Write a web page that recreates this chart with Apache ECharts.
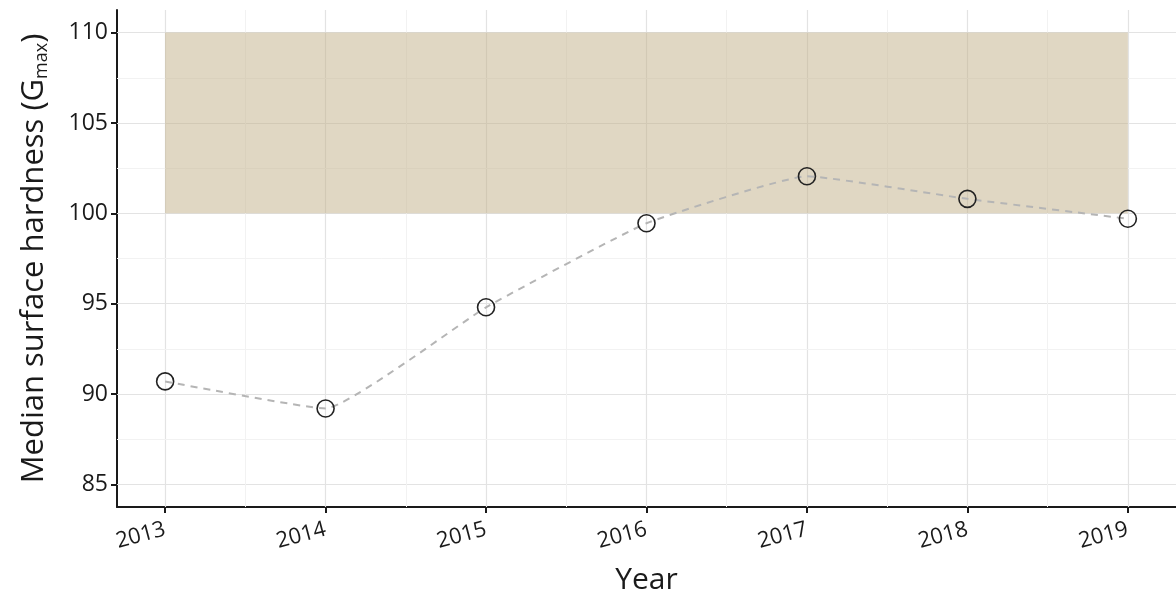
<!DOCTYPE html>
<html><head><meta charset="utf-8">
<script src="https://cdn.jsdelivr.net/npm/echarts@6/dist/echarts.min.js"></script>
<style>html,body{margin:0;padding:0;background:#fff}#c{width:1176px;height:606px}</style>
</head><body><div id="c"></div>
<script>
const years = [2013, 2014, 2015, 2016, 2017, 2018, 2019];
const hardness = [90.7, 89.2, 94.8, 99.45, 102.05, 100.8, 99.7];
const yTicks = [85, 90, 95, 100, 105, 110];
const yMinor = [87.5, 92.5, 97.5, 102.5, 107.5];
const xMinor = [2013.5, 2014.5, 2015.5, 2016.5, 2017.5, 2018.5];
const band = { x0: 2013, x1: 2019, y0: 100, y1: 110 };

const FONT = '"Open Sans", "Noto Sans", sans-serif';
const chart = echarts.init(document.getElementById('c'));

const gridLines = [];
years.forEach(v => gridLines.push({ xAxis: v, lineStyle: { color: '#e3e3e3', width: 1.2, type: 'solid' } }));
yTicks.forEach(v => gridLines.push({ yAxis: v, lineStyle: { color: '#e3e3e3', width: 1.2, type: 'solid' } }));
xMinor.forEach(v => gridLines.push({ xAxis: v, lineStyle: { color: '#f2f2f2', width: 1, type: 'solid' } }));
yMinor.forEach(v => gridLines.push({ yAxis: v, lineStyle: { color: '#f2f2f2', width: 1, type: 'solid' } }));

chart.setOption({
  animation: false,
  backgroundColor: '#fff',
  grid: { left: 117, right: 0, top: 10, bottom: 99, containLabel: false },
  xAxis: {
    type: 'value', min: 2012.7, max: 2019.3,
    name: 'Year', nameLocation: 'middle', nameGap: 58,
    nameTextStyle: { fontFamily: FONT, fontSize: 30, color: '#1a1a1a' },
    axisLine: { show: true, lineStyle: { color: '#1a1a1a', width: 2 } },
    axisTick: { show: true, customValues: years, length: 6, lineStyle: { color: '#1a1a1a', width: 2 } },
    axisLabel: { customValues: years, rotate: 15, fontFamily: FONT, fontSize: 22, color: '#1a1a1a', margin: 22, formatter: v => String(v) },
    splitLine: { show: false }
  },
  yAxis: {
    type: 'value', min: 83.75, max: 111.25,
    name: '{a|Median surface hardness (G}{b|max}{a|)}', nameLocation: 'middle', nameGap: 66,
    nameTextStyle: {
      fontFamily: FONT, color: '#1a1a1a',
      rich: {
        a: { fontFamily: FONT, fontSize: 31, color: '#1a1a1a' },
        b: { fontFamily: FONT, fontSize: 18, color: '#1a1a1a', padding: [16, 0, 0, 0] }
      }
    },
    axisLine: { show: true, lineStyle: { color: '#1a1a1a', width: 2 } },
    axisTick: { show: true, customValues: yTicks, length: 6, lineStyle: { color: '#1a1a1a', width: 2 } },
    axisLabel: { customValues: yTicks, fontFamily: FONT, fontSize: 23, color: '#1a1a1a', margin: 9 },
    splitLine: { show: false }
  },
  series: [
    {
      type: 'line', data: [], silent: true, z: 1,
      markLine: { silent: true, z: 1, symbol: ['none', 'none'], label: { show: false }, data: gridLines, animation: false }
    },
    {
      type: 'line', z: 2, silent: true,
      data: [],
      markArea: {
        silent: true, z: 2,
        itemStyle: { color: 'rgba(194,176,136,0.5)' },
        data: [[{ xAxis: band.x0, yAxis: band.y0 }, { xAxis: band.x1, yAxis: band.y1 }]]
      }
    },
    {
      type: 'line', z: 3,
      data: years.map((y, i) => [y, hardness[i]]),
      smooth: 0.12,
      lineStyle: { color: '#b5b5b5', width: 2, type: [7, 6] },
      symbol: 'circle', symbolSize: 17,
      itemStyle: { color: 'rgba(0,0,0,0)', borderColor: '#222', borderWidth: 1.6 }
    }
  ]
});
</script></body></html>
